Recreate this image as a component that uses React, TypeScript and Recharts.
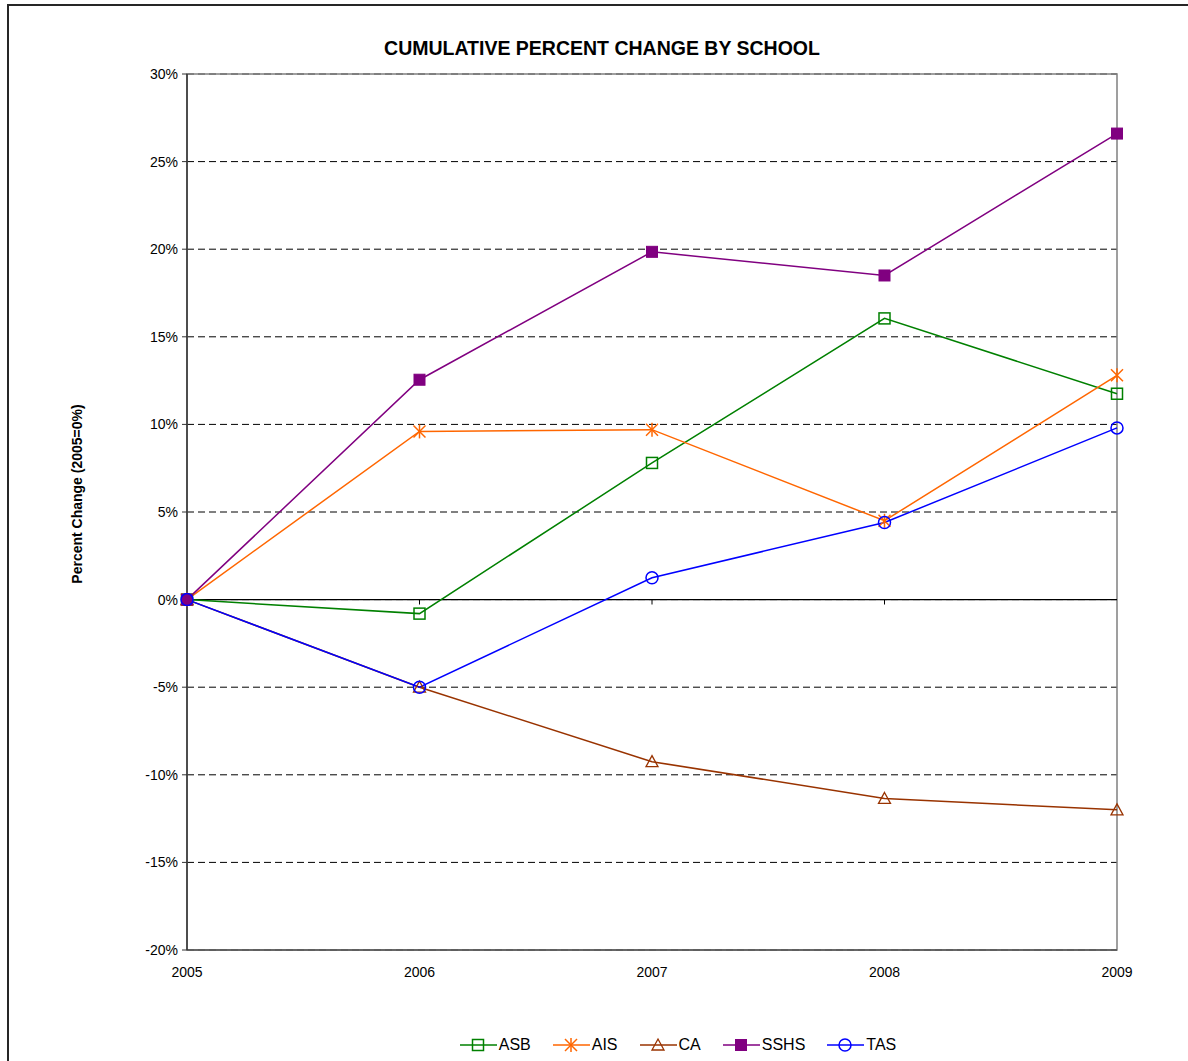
import React from "react";
import { LineChart, Line, XAxis, YAxis, CartesianGrid, ReferenceLine, ReferenceArea, Legend } from "recharts";

const years = ["2005", "2006", "2007", "2008", "2009"];
const asb = [0, -0.8, 7.8, 16.05, 11.75];
const ais = [0, 9.6, 9.7, 4.5, 12.8];
const ca = [0, -5.0, -9.25, -11.35, -12.0];
const sshs = [0, 12.55, 19.85, 18.5, 26.6];
const tas = [0, -5.0, 1.25, 4.4, 9.8];
const yTicks = [-20, -15, -10, -5, 0, 5, 10, 15, 20, 25, 30];

type MarkerKind = "openSquare" | "star" | "triangle" | "square" | "circle";

const SERIES: { key: string; name: string; color: string; marker: MarkerKind; values: number[] }[] = [
  { key: "asb", name: "ASB", color: "#008000", marker: "openSquare", values: asb },
  { key: "ais", name: "AIS", color: "#FF6600", marker: "star", values: ais },
  { key: "ca", name: "CA", color: "#993300", marker: "triangle", values: ca },
  { key: "sshs", name: "SSHS", color: "#800080", marker: "square", values: sshs },
  { key: "tas", name: "TAS", color: "#0000FF", marker: "circle", values: tas },
];

const data = years.map((year, i) => {
  const row: Record<string, string | number> = { year };
  SERIES.forEach((s) => (row[s.key] = s.values[i]));
  return row;
});

const FONT = "Arial, 'Liberation Sans', sans-serif";

function Marker({ kind, color, cx, cy }: { kind: MarkerKind; color: string; cx: number; cy: number }) {
  switch (kind) {
    case "openSquare":
      return <rect x={cx - 5.5} y={cy - 5.5} width={11} height={11} fill="none" stroke={color} strokeWidth={1.5} />;
    case "square":
      return <rect x={cx - 5.5} y={cy - 5.5} width={11} height={11} fill={color} stroke={color} strokeWidth={1} />;
    case "circle":
      return <circle cx={cx} cy={cy} r={6} fill="none" stroke={color} strokeWidth={1.5} />;
    case "triangle":
      return (
        <polygon
          points={`${cx},${cy - 6} ${cx + 6},${cy + 5} ${cx - 6},${cy + 5}`}
          fill="none"
          stroke={color}
          strokeWidth={1.3}
        />
      );
    case "star":
      return (
        <g stroke={color} strokeWidth={1.5}>
          <line x1={cx - 6} y1={cy - 6} x2={cx + 6} y2={cy + 6} />
          <line x1={cx - 6} y1={cy + 6} x2={cx + 6} y2={cy - 6} />
          <line x1={cx} y1={cy - 7} x2={cx} y2={cy + 7} />
        </g>
      );
  }
}

function LegendContent() {
  return (
    <div style={{ display: "flex", justifyContent: "center", gap: 22, fontFamily: FONT, fontSize: 16, color: "#000" }}>
      {SERIES.map((s) => (
        <div key={s.key} style={{ display: "flex", alignItems: "center" }}>
          <svg width={37} height={16} style={{ marginRight: 2 }}>
            <line x1={0} y1={8} x2={37} y2={8} stroke={s.color} strokeWidth={1.5} />
            <Marker kind={s.marker} color={s.color} cx={18} cy={8} />
          </svg>
          <span>{s.name}</span>
        </div>
      ))}
    </div>
  );
}

export default function App() {
  return (
    <div style={{ position: "absolute", left: 0, top: 0, width: 1188, height: 1061, overflow: "hidden", background: "#fff" }}>
      <div
        style={{
          position: "absolute",
          left: 7,
          top: 4,
          width: 1190,
          height: 1080,
          border: "2px solid #262626",
        }}
      />
      <div
        style={{
          position: "absolute",
          left: 0,
          top: 37,
          width: 1204,
          textAlign: "center",
          fontFamily: FONT,
          fontWeight: "bold",
          fontSize: 19.5,
        }}
      >
        CUMULATIVE PERCENT CHANGE BY SCHOOL
      </div>
      <div
        style={{
          position: "absolute",
          left: 77,
          top: 494,
          transform: "translate(-50%, -50%) rotate(-90deg)",
          whiteSpace: "nowrap",
          fontFamily: FONT,
          fontWeight: "bold",
          fontSize: 14,
        }}
      >
        Percent Change (2005=0%)
      </div>
      <div style={{ position: "absolute", left: 0, top: 0 }}>
        <LineChart width={1188} height={1061} data={data} margin={{ top: 74, right: 71, left: 127, bottom: 81 }}>
          <CartesianGrid vertical={false} stroke="#000" strokeDasharray="7 4" />
          <ReferenceArea x1="2005" x2="2009" y1={-20} y2={30} fill="none" stroke="#808080" strokeWidth={1.5} />
          <XAxis
            dataKey="year"
            height={30}
            axisLine={{ stroke: "#555", strokeWidth: 1.5 }}
            tickLine={false}
            tickMargin={11}
            tick={{ fill: "#000", fontSize: 14, fontFamily: FONT }}
          />
          <YAxis
            width={60}
            domain={[-20, 30]}
            ticks={yTicks}
            interval={0}
            tickFormatter={(v: number) => `${v}%`}
            axisLine={{ stroke: "#333", strokeWidth: 1.5 }}
            tickLine={{ stroke: "#333" }}
            tickSize={5}
            tickMargin={4}
            tick={{ fill: "#000", fontSize: 14, fontFamily: FONT }}
          />
          <ReferenceLine y={0} stroke="#000" strokeWidth={1.2} />
          {years.slice(1, 4).map((y) => (
            <ReferenceLine
              key={y}
              segment={[
                { x: y, y: 0 },
                { x: y, y: -0.28 },
              ]}
              stroke="#000"
            />
          ))}
          {SERIES.map((s) => (
            <Line
              key={s.key}
              type="linear"
              dataKey={s.key}
              name={s.name}
              stroke={s.color}
              strokeWidth={1.5}
              isAnimationActive={false}
              dot={(p: any) => <Marker key={`${s.key}-${p.index}`} kind={s.marker} color={s.color} cx={p.cx} cy={p.cy} />}
              activeDot={false}
            />
          ))}
          <Legend
            layout="horizontal"
            verticalAlign="middle"
            align="center"
            content={() => <LegendContent />}
            wrapperStyle={{ top: 1036, left: 178, width: 1000 }}
          />
        </LineChart>
      </div>
    </div>
  );
}
